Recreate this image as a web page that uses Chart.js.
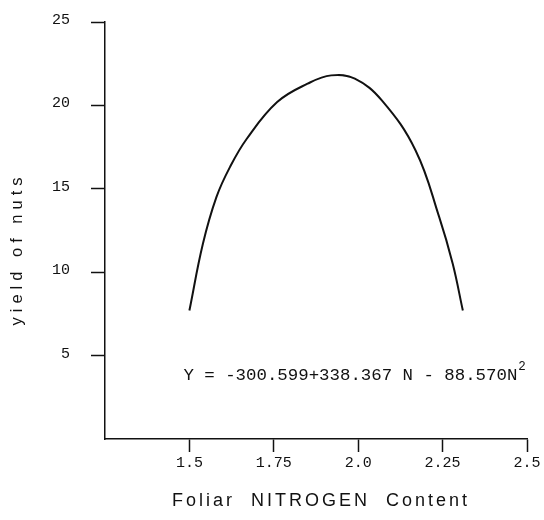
<!DOCTYPE html>
<html>
<head>
<meta charset="utf-8">
<script src="https://cdn.jsdelivr.net/npm/chart.js@4/dist/chart.umd.min.js"></script>
<style>
  html, body { margin: 0; padding: 0; background: #fff; }
  #wrap { width: 544px; height: 520px; }
</style>
</head>
<body>
<div id="wrap"><canvas id="c" width="544" height="520"></canvas></div>
<script>
// Foliar nitrogen content (N) and yield of nuts along the fitted response curve
const nitrogen = [1.50, 1.54, 1.58, 1.62, 1.67, 1.76, 1.85, 1.92, 1.99, 2.07, 2.17, 2.24, 2.28, 2.31];
const yieldOfNuts = [7.7, 11.7, 14.5, 16.3, 18.0, 20.2, 21.3, 21.8, 21.6, 20.3, 17.3, 13.3, 10.5, 7.7];

const xTickValues = [1.5, 1.75, 2.0, 2.25, 2.5];
const xTickLabels = ['1.5', '1.75', '2.0', '2.25', '2.5'];
const yTickValues = [5, 10, 15, 20, 25];

const equationText = 'Y = -300.599+338.367 N - 88.570N';
const equationPower = '2';
const xTitle = 'Foliar  NITROGEN  Content';
const yTitle = 'yield of nuts';

const INK = '#111111';
const MONO = '"Liberation Mono", "DejaVu Sans Mono", monospace';
const SANS = '"Liberation Sans", Arial, sans-serif';

// Axis titles and the regression equation, drawn as spaced text
const annotations = {
  id: 'annotations',
  afterDraw(chart) {
    const { ctx, chartArea, scales } = chart;
    ctx.save();
    ctx.fillStyle = INK;

    // x axis title
    ctx.font = '18px ' + SANS;
    ctx.letterSpacing = '3px';
    ctx.textAlign = 'center';
    ctx.textBaseline = 'middle';
    ctx.fillText(xTitle, 321, chartArea.bottom + 62);

    // y axis title
    ctx.save();
    ctx.translate(17, 249);
    ctx.rotate(-Math.PI / 2);
    ctx.font = '16.5px ' + SANS;
    ctx.letterSpacing = '5px';
    ctx.fillText(yTitle, 0, 0);
    ctx.restore();

    // regression equation
    ctx.letterSpacing = '0px';
    ctx.font = '17.4px ' + MONO;
    ctx.textAlign = 'left';
    const ex = scales.x.getPixelForValue(1.5) - 6;
    const ey = scales.y.getPixelForValue(3.8);
    ctx.fillText(equationText, ex, ey);
    const w = ctx.measureText(equationText).width;
    ctx.font = '12.5px ' + MONO;
    ctx.fillText(equationPower, ex + w + 1, ey - 9);
    ctx.restore();
  }
};

new Chart(document.getElementById('c'), {
  type: 'line',
  data: {
    datasets: [{
      data: nitrogen.map((n, i) => ({ x: n, y: yieldOfNuts[i] })),
      borderColor: INK,
      borderWidth: 2,
      pointRadius: 0,
      tension: 0.4,
      fill: false
    }]
  },
  options: {
    responsive: false,
    animation: false,
    devicePixelRatio: 1,
    layout: { padding: { top: 22, right: 17, left: 0, bottom: 0 } },
    plugins: {
      legend: { display: false },
      tooltip: { enabled: false }
    },
    scales: {
      x: {
        type: 'linear',
        min: 1.25,
        max: 2.5,
        afterBuildTicks: s => { s.ticks = xTickValues.map(v => ({ value: v })); },
        afterFit: s => { s.height = 81; s.paddingLeft = 0; s.paddingRight = 0; },
        border: { display: true, color: INK, width: 1.5 },
        grid: { drawOnChartArea: false, drawTicks: true, tickLength: 13, tickColor: INK, tickWidth: 1.5 },
        ticks: {
          color: INK,
          padding: 2,
          font: { family: MONO, size: 15 },
          callback: v => xTickLabels[xTickValues.indexOf(v)]
        },
        title: { display: false }
      },
      y: {
        type: 'linear',
        min: 0,
        max: 25,
        afterBuildTicks: s => { s.ticks = yTickValues.map(v => ({ value: v })); },
        afterFit: s => { s.width = 105; s.paddingTop = 0; s.paddingBottom = 0; },
        border: { display: true, color: INK, width: 1.5 },
        grid: { drawOnChartArea: false, drawTicks: true, tickLength: 14, tickColor: INK, tickWidth: 1.5 },
        ticks: {
          color: INK,
          padding: 21,
          labelOffset: -2,
          font: { family: MONO, size: 15 },
          callback: v => String(v)
        },
        title: { display: false }
      }
    }
  },
  plugins: [annotations]
});
</script>
</body>
</html>
